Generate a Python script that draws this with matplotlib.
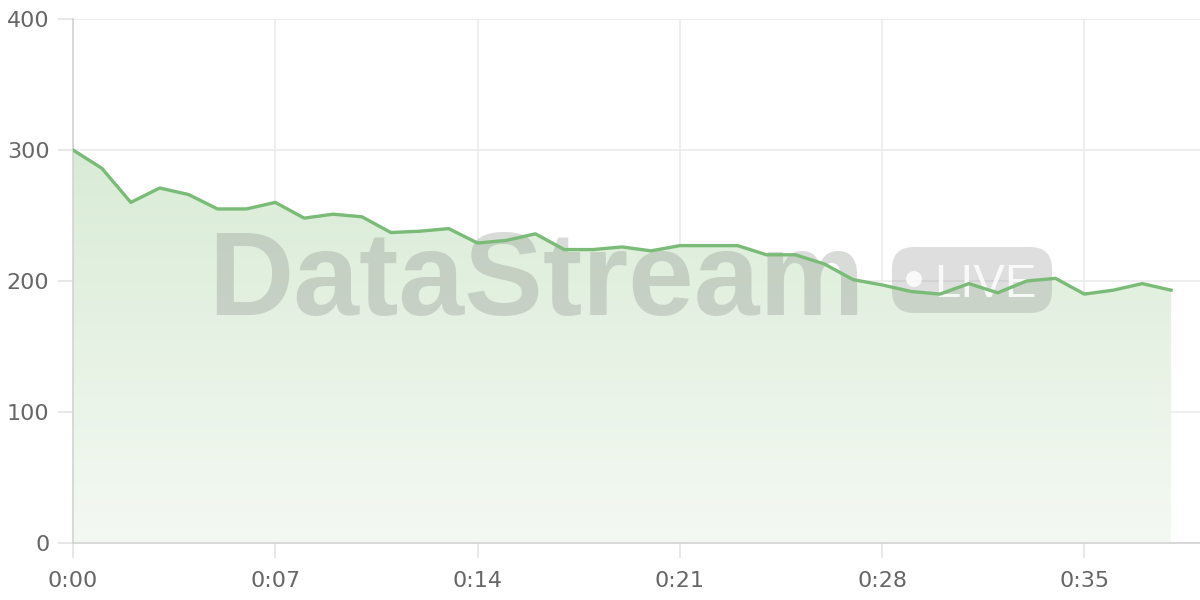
import matplotlib
matplotlib.use("Agg")
import matplotlib.pyplot as plt
import numpy as np
from matplotlib.patches import FancyBboxPatch, Circle, Polygon
from matplotlib.transforms import IdentityTransform

# values, one point per minute
minutes = list(range(39))
values = [300, 286, 260, 271, 266, 255, 255, 260, 248, 251,
          249, 237, 238, 240, 229, 231, 236, 224, 224, 226,
          223, 227, 227, 227, 220, 220, 213, 201, 197, 192,
          190, 198, 191, 200, 202, 190, 193, 198, 193]
x_ticks = [0, 7, 14, 21, 28, 35]
x_labels = ["0:00", "0:07", "0:14", "0:21", "0:28", "0:35"]
y_ticks = [0, 100, 200, 300, 400]

plt.rcParams['font.family'] = ['DejaVu Sans']

W, H = 1200, 600
fig = plt.figure(figsize=(12, 6), dpi=100)
ax = fig.add_axes([73 / W, 57 / H, 1127 / W, 524 / H])

ax.set_xlim(0, 39)
ax.set_ylim(0, 400)

# gradient fill under the line
grad = np.linspace(0, 1, 256).reshape(-1, 1)
cmap = matplotlib.colors.LinearSegmentedColormap.from_list(
    "g", ["#f4f9f3", "#d8ebd5"])
img = ax.imshow(grad, extent=[0, 39, 0, 310], origin="lower", aspect="auto",
                cmap=cmap, zorder=1)
poly_pts = [(0, 0)] + list(zip(minutes, values)) + [(minutes[-1], 0)]
poly = Polygon(poly_pts, closed=True, facecolor="none", edgecolor="none")
ax.add_patch(poly)
img.set_clip_path(poly)

ax.plot(minutes, values, color="#79bb77", linewidth=2.4, zorder=5,
        solid_joinstyle="round")

# axes styling
ax.set_xticks(x_ticks)
ax.set_xticklabels(x_labels)
ax.set_yticks(y_ticks)
ax.grid(True, color="#ebebeb", linewidth=1.2, zorder=0)
ax.set_axisbelow(True)
for s in ["top", "right"]:
    ax.spines[s].set_visible(False)
for s in ["left", "bottom"]:
    ax.spines[s].set_color("#d3d3d3")
    ax.spines[s].set_linewidth(1.2)
ax.tick_params(axis="both", colors="#e4e4e4", length=11, width=1.2,
               labelcolor="#666666", labelsize=16)
ax.tick_params(axis="y", pad=6)
ax.tick_params(axis="x", pad=9)

# watermark (pixel coordinates, drawn under the line)
px = IdentityTransform()
ax.text(536, H - 315, "DataStream", fontsize=85, fontweight="bold",
        family="Liberation Sans", color="#8a8f8a", alpha=0.32, ha="center",
        va="baseline", transform=px, zorder=3)
badge = FancyBboxPatch((892, H - 313), 160, 66,
                       boxstyle="round,pad=0,rounding_size=22",
                       transform=px, facecolor="#8a8a8a", alpha=0.28,
                       edgecolor="none", zorder=3)
ax.add_artist(badge)
dot = Circle((914, H - 279), 8, transform=px, facecolor="white",
             alpha=0.85, edgecolor="none", zorder=4)
ax.add_artist(dot)
ax.text(985, H - 297, "LIVE", fontsize=34, family="Liberation Sans",
        color="white", alpha=0.85, ha="center", va="baseline",
        transform=px, zorder=4)

fig.savefig("out.png", dpi=100)
